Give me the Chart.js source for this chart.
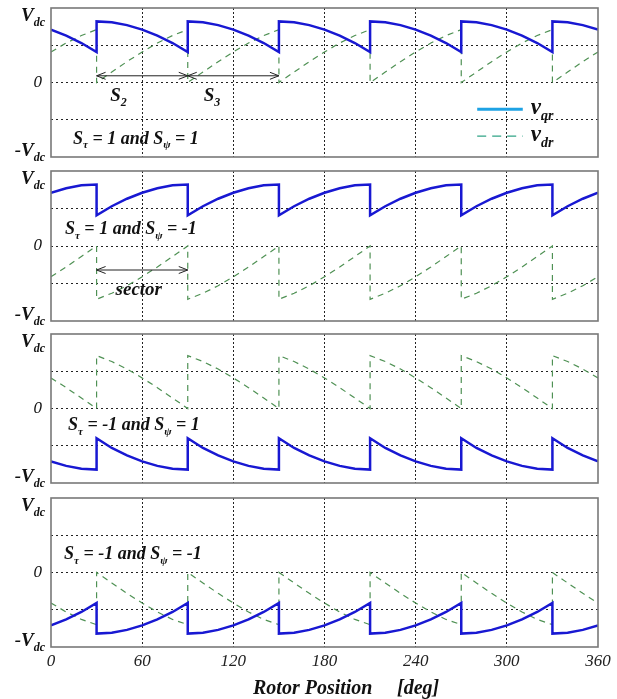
<!DOCTYPE html>
<html>
<head>
<meta charset="utf-8">
<script src="https://cdn.jsdelivr.net/npm/chart.js@4.4.0/dist/chart.umd.min.js"></script>
<style>
  html, body { margin: 0; padding: 0; background: #fff; overflow: hidden; }
  #wrap { position: relative; width: 617px; height: 699px; }
  .panel { position: absolute; left: 0; width: 617px; }
</style>
</head>
<body>
<div id="wrap">
  <div class="panel" style="top:0px;height:165px"><canvas id="p1"></canvas></div>
  <div class="panel" style="top:163px;height:166px"><canvas id="p2"></canvas></div>
  <div class="panel" style="top:326px;height:165px"><canvas id="p3"></canvas></div>
  <div class="panel" style="top:490px;height:209px"><canvas id="p4"></canvas></div>
</div>
<script>
// rotor position samples (deg), jump points listed twice
const angles = [0, 10, 20, 30,
  30, 40, 50, 60, 70, 80, 90,
  90, 100, 110, 120, 130, 140, 150,
  150, 160, 170, 180, 190, 200, 210,
  210, 220, 230, 240, 250, 260, 270,
  270, 280, 290, 300, 310, 320, 330,
  330, 340, 350, 360];

const xTicks = [0, 60, 120, 180, 240, 300, 360];

// values in units of Vdc
// S_tau = 1, S_psi = 1
const qr1 = [0.71, 0.63, 0.53, 0.41,
  0.82, 0.81, 0.77, 0.71, 0.63, 0.53, 0.41,
  0.82, 0.81, 0.77, 0.71, 0.63, 0.53, 0.41,
  0.82, 0.81, 0.77, 0.71, 0.63, 0.53, 0.41,
  0.82, 0.81, 0.77, 0.71, 0.63, 0.53, 0.41,
  0.82, 0.81, 0.77, 0.71, 0.63, 0.53, 0.41,
  0.82, 0.81, 0.77, 0.71];
const dr1 = [0.41, 0.53, 0.63, 0.71,
  0, 0.14, 0.28, 0.41, 0.53, 0.63, 0.71,
  0, 0.14, 0.28, 0.41, 0.53, 0.63, 0.71,
  0, 0.14, 0.28, 0.41, 0.53, 0.63, 0.71,
  0, 0.14, 0.28, 0.41, 0.53, 0.63, 0.71,
  0, 0.14, 0.28, 0.41, 0.53, 0.63, 0.71,
  0, 0.14, 0.28, 0.41];

// S_tau = 1, S_psi = -1
const qr2 = [0.71, 0.77, 0.81, 0.82,
  0.41, 0.53, 0.63, 0.71, 0.77, 0.81, 0.82,
  0.41, 0.53, 0.63, 0.71, 0.77, 0.81, 0.82,
  0.41, 0.53, 0.63, 0.71, 0.77, 0.81, 0.82,
  0.41, 0.53, 0.63, 0.71, 0.77, 0.81, 0.82,
  0.41, 0.53, 0.63, 0.71, 0.77, 0.81, 0.82,
  0.41, 0.53, 0.63, 0.71];
const dr2 = [-0.41, -0.28, -0.14, 0,
  -0.71, -0.63, -0.53, -0.41, -0.28, -0.14, 0,
  -0.71, -0.63, -0.53, -0.41, -0.28, -0.14, 0,
  -0.71, -0.63, -0.53, -0.41, -0.28, -0.14, 0,
  -0.71, -0.63, -0.53, -0.41, -0.28, -0.14, 0,
  -0.71, -0.63, -0.53, -0.41, -0.28, -0.14, 0,
  -0.71, -0.63, -0.53, -0.41];

// S_tau = -1, S_psi = 1
const qr3 = [-0.71, -0.77, -0.81, -0.82,
  -0.40, -0.53, -0.63, -0.71, -0.77, -0.81, -0.82,
  -0.40, -0.53, -0.63, -0.71, -0.77, -0.81, -0.82,
  -0.40, -0.53, -0.63, -0.71, -0.77, -0.81, -0.82,
  -0.40, -0.53, -0.63, -0.71, -0.77, -0.81, -0.82,
  -0.40, -0.53, -0.63, -0.71, -0.77, -0.81, -0.82,
  -0.40, -0.53, -0.63, -0.71];
const dr3 = [0.41, 0.28, 0.14, 0,
  0.71, 0.63, 0.53, 0.41, 0.28, 0.14, 0,
  0.71, 0.63, 0.53, 0.41, 0.28, 0.14, 0,
  0.71, 0.63, 0.53, 0.41, 0.28, 0.14, 0,
  0.71, 0.63, 0.53, 0.41, 0.28, 0.14, 0,
  0.71, 0.63, 0.53, 0.41, 0.28, 0.14, 0,
  0.71, 0.63, 0.53, 0.41];

// S_tau = -1, S_psi = -1
const qr4 = [-0.71, -0.63, -0.53, -0.41,
  -0.82, -0.81, -0.77, -0.71, -0.63, -0.53, -0.41,
  -0.82, -0.81, -0.77, -0.71, -0.63, -0.53, -0.41,
  -0.82, -0.81, -0.77, -0.71, -0.63, -0.53, -0.41,
  -0.82, -0.81, -0.77, -0.71, -0.63, -0.53, -0.41,
  -0.82, -0.81, -0.77, -0.71, -0.63, -0.53, -0.41,
  -0.82, -0.81, -0.77, -0.71];
const dr4 = [-0.41, -0.53, -0.63, -0.70,
  0, -0.14, -0.28, -0.41, -0.53, -0.63, -0.70,
  0, -0.14, -0.28, -0.41, -0.53, -0.63, -0.70,
  0, -0.14, -0.28, -0.41, -0.53, -0.63, -0.70,
  0, -0.14, -0.28, -0.41, -0.53, -0.63, -0.70,
  0, -0.14, -0.28, -0.41, -0.53, -0.63, -0.70,
  0, -0.14, -0.28, -0.41];

const FONT = '"Liberation Serif", "Times New Roman", serif';
const BLUE = '#1818d2';
const GREEN = '#4f9154';

// draw text with subscripts, parts = [[text, isSub], ...]
function drawRich(ctx, parts, x, y, size, align) {
  const subSize = Math.round(size * 0.62);
  let w = 0;
  parts.forEach(([t, sub]) => {
    ctx.font = `italic bold ${sub ? subSize : size}px ${FONT}`;
    w += ctx.measureText(t).width;
  });
  let cx = align === 'right' ? x - w : x;
  ctx.textAlign = 'left';
  ctx.textBaseline = 'alphabetic';
  parts.forEach(([t, sub]) => {
    ctx.font = `italic bold ${sub ? subSize : size}px ${FONT}`;
    ctx.fillText(t, cx, sub ? y + size * 0.25 : y);
    cx += ctx.measureText(t).width;
  });
}

function arrow(ctx, x1, x2, y) {
  ctx.beginPath();
  ctx.moveTo(x1, y); ctx.lineTo(x2, y);
  ctx.moveTo(x1 + 9, y - 3.5); ctx.lineTo(x1, y); ctx.lineTo(x1 + 9, y + 3.5);
  ctx.moveTo(x2 - 9, y - 3.5); ctx.lineTo(x2, y); ctx.lineTo(x2 - 9, y + 3.5);
  ctx.stroke();
}

function panelPlugin(cfg) {
  return {
    id: 'panelText',
    afterDatasetsDraw(chart) {
      const { ctx, chartArea: a, scales: { x, y } } = chart;
      ctx.save();
      // frame
      ctx.strokeStyle = '#787878';
      ctx.lineWidth = 1.6;
      ctx.strokeRect(a.left, a.top, a.right - a.left, a.bottom - a.top);

      ctx.fillStyle = '#111';
      // y labels
      drawRich(ctx, [['V'], ['dc', 1]], 45, a.top + 13, 19, 'right');
      ctx.font = `italic 17px ${FONT}`;
      ctx.textAlign = 'right';
      ctx.textBaseline = 'middle';
      ctx.fillText('0', 42, y.getPixelForValue(0));
      drawRich(ctx, [['-V'], ['dc', 1]], 45, a.bottom - 1, 19, 'right');

      // case label
      drawRich(ctx, cfg.label, x.getPixelForValue(cfg.labelAt[0]), y.getPixelForValue(cfg.labelAt[1]) + 6, 18);

      ctx.strokeStyle = '#222';
      ctx.lineWidth = 1;
      (cfg.arrows || []).forEach(([x1, x2, yv]) => {
        arrow(ctx, x.getPixelForValue(x1), x.getPixelForValue(x2), y.getPixelForValue(yv));
      });
      (cfg.notes || []).forEach(([parts, xv, yv]) => {
        drawRich(ctx, parts, x.getPixelForValue(xv), y.getPixelForValue(yv) + 6, 19);
      });

      if (cfg.legend) {
        const lx1 = x.getPixelForValue(280.5), lx2 = x.getPixelForValue(310.5);
        const ly1 = y.getPixelForValue(-0.36), ly2 = y.getPixelForValue(-0.72);
        ctx.lineWidth = 3;
        ctx.strokeStyle = '#1ea2e4';
        ctx.beginPath(); ctx.moveTo(lx1, ly1); ctx.lineTo(lx2, ly1); ctx.stroke();
        ctx.lineWidth = 1.4;
        ctx.strokeStyle = '#30a486';
        ctx.setLineDash([9, 6]);
        ctx.beginPath(); ctx.moveTo(lx1, ly2); ctx.lineTo(lx2, ly2); ctx.stroke();
        ctx.setLineDash([]);
        drawRich(ctx, [['v'], ['qr', 1]], lx2 + 8, ly1 + 5, 23);
        drawRich(ctx, [['v'], ['dr', 1]], lx2 + 8, ly2 + 5, 23);
      }

      if (cfg.title) {
        ctx.font = `italic bold 20px ${FONT}`;
        ctx.textAlign = 'left';
        ctx.textBaseline = 'alphabetic';
        ctx.fillText('Rotor Position', 253, chart.height - 5);
        ctx.fillText('[deg]', 397, chart.height - 5);
      }
      ctx.restore();
    }
  };
}

function makePanel(id, qr, dr, cfg) {
  return new Chart(document.getElementById(id), {
    type: 'line',
    data: {
      datasets: [
        { data: angles.map((a, i) => ({ x: a, y: qr[i] })), borderColor: BLUE, borderWidth: 2.5,
          pointRadius: 0, tension: 0, fill: false },
        { data: angles.map((a, i) => ({ x: a, y: dr[i] })), borderColor: GREEN, borderWidth: 1.2,
          borderDash: [6, 5], pointRadius: 0, tension: 0, fill: false }
      ]
    },
    options: {
      responsive: true,
      maintainAspectRatio: false,
      animation: false,
      layout: { padding: cfg.padding },
      plugins: { legend: { display: false }, tooltip: { enabled: false } },
      scales: {
        x: {
          type: 'linear', min: 0, max: 360,
          afterBuildTicks: (s) => { s.ticks = xTicks.map(v => ({ value: v })); },
          // fixed axis band so the plot area lines up with the other panels
          afterFit: (s) => { s.paddingLeft = 0; s.paddingRight = 0; s.height = cfg.title ? 28 : 0; },
          ticks: {
            display: !!cfg.title, autoSkip: false, maxRotation: 0, padding: 4,
            color: '#222', font: { family: FONT, size: 17, style: 'italic' }
          },
          grid: {
            drawTicks: false, lineWidth: 1,
            color: (c) => (c.tick && (c.tick.value === 0 || c.tick.value === 360)) ? 'rgba(0,0,0,0)' : '#222'
          },
          border: { display: false, dash: [2, 2] }
        },
        y: {
          min: -1, max: 1,
          ticks: { display: false, stepSize: 0.5 },
          grid: {
            drawTicks: false, lineWidth: 1,
            color: (c) => (c.tick && Math.abs(c.tick.value) === 1) ? 'rgba(0,0,0,0)' : '#222'
          },
          border: { display: false, dash: [2, 3] }
        }
      }
    },
    plugins: [panelPlugin(cfg)]
  });
}

document.addEventListener('DOMContentLoaded', () => {
  makePanel('p1', qr1, dr1, {
    padding: { left: 51, right: 19, top: 8, bottom: 8 },
    label: [['S'], ['τ', 1], [' = 1 and '], ['S'], ['ψ', 1], [' = 1']],
    labelAt: [14.5, -0.74],
    arrows: [[30, 90, 0.09], [90, 150, 0.09]],
    notes: [[[['S'], ['2', 1]], 39, -0.17], [[['S'], ['3', 1]], 100.5, -0.17]],
    legend: true
  });
  makePanel('p2', qr2, dr2, {
    padding: { left: 51, right: 19, top: 8, bottom: 8 },
    label: [['S'], ['τ', 1], [' = 1 and '], ['S'], ['ψ', 1], [' = -1']],
    labelAt: [9.2, 0.24],
    arrows: [[30, 90, -0.32]],
    notes: [[[['sector']], 42.5, -0.57]]
  });
  makePanel('p3', qr3, dr3, {
    padding: { left: 51, right: 19, top: 8, bottom: 8 },
    label: [['S'], ['τ', 1], [' = -1 and '], ['S'], ['ψ', 1], [' = 1']],
    labelAt: [11.2, -0.21]
  });
  makePanel('p4', qr4, dr4, {
    padding: { left: 51, right: 19, top: 8, bottom: 24 },
    label: [['S'], ['τ', 1], [' = -1 and '], ['S'], ['ψ', 1], [' = -1']],
    labelAt: [8.6, 0.26],
    title: true
  });
});
</script>
</body>
</html>
